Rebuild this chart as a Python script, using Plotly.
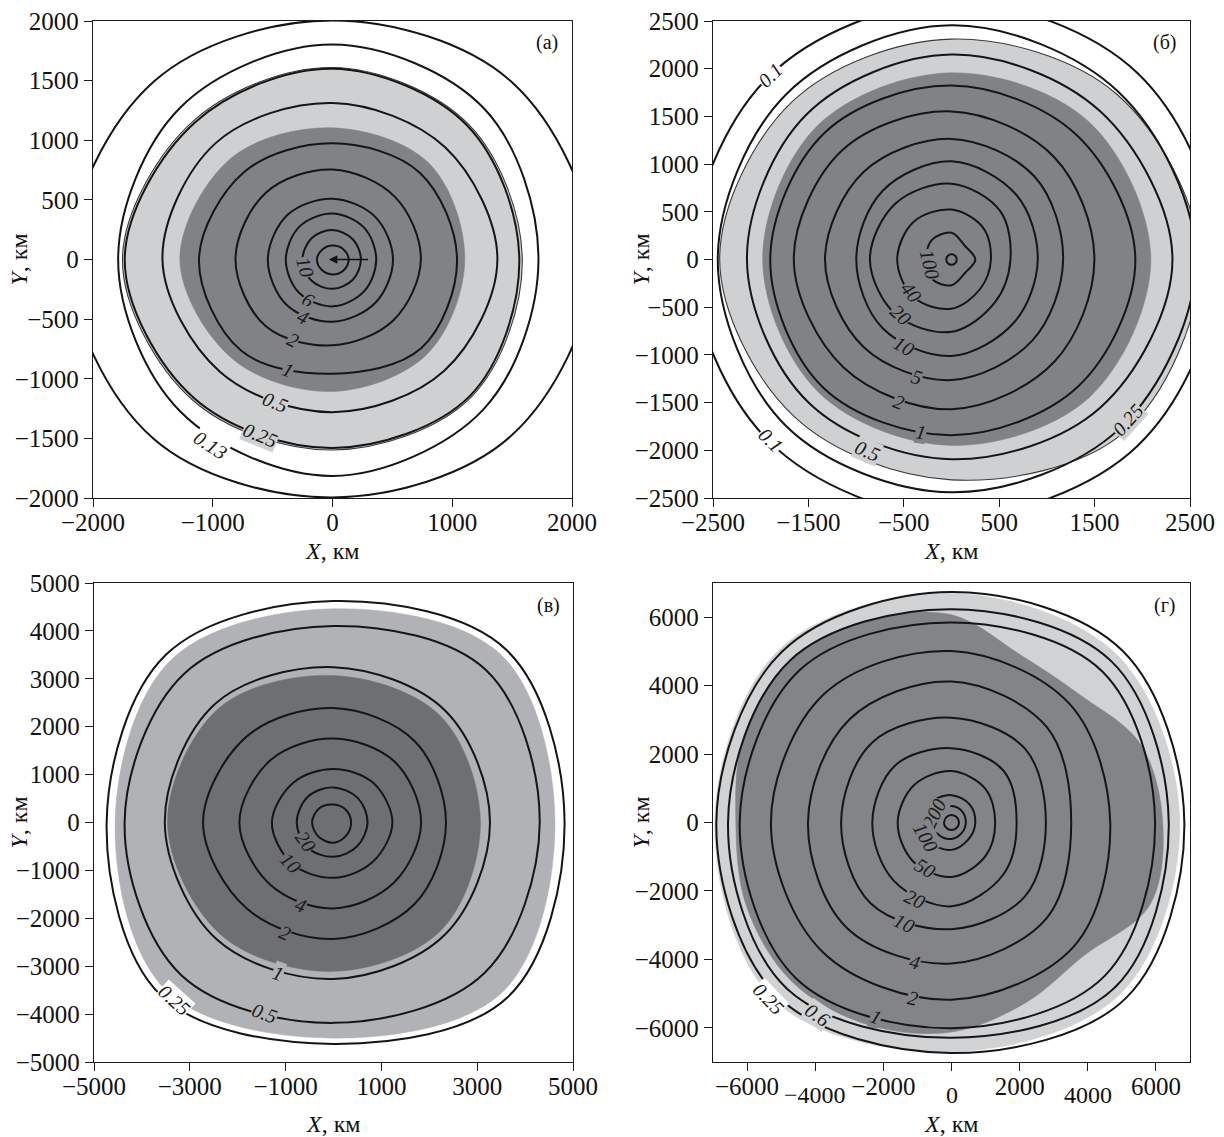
import numpy as np
import plotly.graph_objects as go

W, H = 1224, 1137
FONT = "Liberation Serif"
ANG8 = [0, 45, 90, 135, 180, 225, 270, 315]
ANG16 = [0, 22.5, 45, 67.5, 90, 112.5, 135, 157.5, 180, 202.5, 225, 247.5, 270, 292.5, 315, 337.5]

# ---------------- panel (а) ----------------
A_levels = ["", "0.13", "0.25", "0.5", "1", "2", "4", "6", "10", ""]
A_radii = [
    [2180, 2110, 2005, 2110, 2200, 2120, 1995, 2100],
    [1720, 1790, 1803, 1800, 1790, 1800, 1815, 1780],
    [1560, 1590, 1600, 1625, 1735, 1640, 1580, 1620],
    [1377, 1330, 1312, 1380, 1420, 1330, 1280, 1320],
    [1040, 1030, 974, 1040, 1115, 1080, 958, 1050],
    [738, 740, 755, 790, 810, 790, 720, 720],
    [505, 505, 510, 530, 540, 540, 522, 510],
    [365, 375, 385, 390, 390, 395, 393, 375],
    [237, 240, 248, 250, 250, 250, 246, 240],
    [135, 125, 118, 120, 130, 125, 125, 130],
]
A_light = [1585, 1605, 1610, 1643, 1754, 1660, 1598, 1635]
A_dark = [1105, 1140, 1104, 1200, 1275, 1180, 1107, 1120]
A_lab_text = ["10", "6", "4", "2", "1", "0.5", "0.25", "0.13"]
A_lab_x = [-230, -202, -244, -327, -369, -480, -604, -1019]
A_lab_y = [-65, -340, -485, -675, -927, -1192, -1468, -1555]
A_lab_bg = ["dark", "dark", "dark", "dark", "dark", "light", "light", "white"]
A_arrow_tail = [310, 0]
A_arrow_head = [-30, 0]

# ---------------- panel (б) ----------------
B_levels = ["0.1", "0.25", "0.5", "1", "2", "5", "10", "20", "40", "100", ""]
B_radii = [
    [2800, 2760, 2700, 2710, 2720, 2700, 2700, 2760],
    [2560, 2480, 2455, 2450, 2450, 2460, 2440, 2500],
    [2316, 2200, 2148, 2150, 2144, 2120, 2094, 2200],
    [1927, 1850, 1823, 1880, 1900, 1900, 1841, 1880],
    [1498, 1520, 1552, 1620, 1653, 1600, 1570, 1520],
    [1170, 1230, 1264, 1300, 1326, 1300, 1264, 1200],
    [904, 960, 1029, 1020, 998, 1020, 1011, 930],
    [618, 720, 794, 830, 855, 820, 758, 640],
    [413, 470, 523, 560, 569, 560, 516, 430],
    [250, 200, 280, 290, 265, 290, 270, 200],
    [55, 55, 55, 55, 55, 55, 55, 55],
]
B_light = [2600, 2450, 2310, 2350, 2430, 2330, 2310, 2560]
B_dark = [2090, 2040, 1957, 1985, 1980, 1970, 1949, 2044]
B_lab_text = ["100", "40", "20", "10", "5", "2", "1", "0.5", "0.25", "0.1", "0.1"]
B_lab_x = [-221, -425, -528, -500, -364, -548, -323, -876, 1845, -1898, -1898]
B_lab_y = [-54, -343, -578, -903, -1227, -1491, -1805, -2004, -1679, 1931, -1895]
B_lab_bg = ["dark", "dark", "dark", "dark", "dark", "dark", "dark", "light", "light", "white", "white"]

# ---------------- panel (в) ----------------
C_levels = ["0.25", "0.5", "1", "2", "4", "10", "20", ""]
C_radii = [
    [4824, 5100, 4622, 4950, 4736, 5100, 4622, 5150],
    [4305, 4500, 4104, 4400, 4361, 4500, 4183, 4450],
    [3267, 3300, 3243, 3500, 3522, 3450, 3267, 3300],
    [2348, 2400, 2390, 2550, 2723, 2550, 2430, 2400],
    [1829, 1800, 1753, 1850, 1965, 1850, 1793, 1780],
    [1230, 1170, 1116, 1180, 1286, 1220, 1155, 1160],
    [711, 720, 733, 760, 767, 750, 717, 700],
    [367, 370, 375, 420, 447, 430, 422, 380],
]
C_light = [4624, 4950, 4462, 4800, 4560, 4950, 4502, 5000]
C_dark = [3067, 3150, 3068, 3380, 3466, 3320, 3108, 3180]
C_lab_text = ["20", "10", "4", "2", "1", "0.5", "0.25"]
C_lab_x = [-567, -887, -687, -1006, -1166, -1446, -3323]
C_lab_y = [-398, -837, -1713, -2311, -3147, -3984, -3704]
C_lab_bg = ["dark", "dark", "dark", "dark", "light", "light", "white"]

# ---------------- panel (г) ----------------
D_levels = ["0.25", "0.6", "1", "2", "4", "10", "20", "50", "100", "200", ""]
D_radii = [
    [6834, 7100, 6737, 7050, 6902, 7200, 6737, 7250],
    [6376, 6650, 6236, 6700, 6559, 6850, 6292, 6800],
    [5975, 6250, 5846, 6300, 6216, 6450, 6013, 6350],
    [4659, 4900, 5011, 5300, 5300, 5350, 5178, 5100],
    [3514, 3950, 4120, 4250, 4212, 4350, 4120, 3950],
    [2770, 3050, 3062, 3300, 3240, 3350, 3118, 3050],
    [1912, 2150, 2171, 2350, 2324, 2400, 2450, 2150],
    [1282, 1400, 1503, 1550, 1580, 1600, 1592, 1400],
    [700, 750, 800, 850, 900, 850, 800, 700],
    [420, 450, 480, 520, 560, 520, 480, 430],
    [220, 220, 220, 220, 220, 220, 220, 220],
]
D_light = [6700, 6900, 6700, 7150, 6950, 7350, 6700, 7050]
D_dark = [6200, 6000, 5300, 5300, 6069, 6400, 6700, 6600, 6330, 6500, 6600, 6400, 6124, 5700, 5500, 6300]
D_lab_text = ["200", "100", "50", "20", "10", "4", "2", "1", "0.6", "0.25"]
D_lab_x = [-520, -760, -778, -1065, -1408, -1065, -1122, -2209, -3926, -5357]
D_lab_y = [250, -420, -1336, -2227, -2951, -4065, -5122, -5679, -5624, -5157]
D_lab_bg = ["dark", "dark", "dark", "dark", "dark", "dark", "dark", "dark", "light", "white"]

# tick values / labels
A_ticks_x = [-2000, -1000, 0, 1000, 2000]
A_ticks_y = [-2000, -1500, -1000, -500, 0, 500, 1000, 1500, 2000]
B_ticks_x = [-2500, -1500, -500, 500, 1500, 2500]
B_ticks_y = [-2500, -2000, -1500, -1000, -500, 0, 500, 1000, 1500, 2000, 2500]
C_ticks_x = [-5000, -3000, -1000, 1000, 3000, 5000]
C_ticks_y = [-5000, -4000, -3000, -2000, -1000, 0, 1000, 2000, 3000, 4000, 5000]
D_ticks_x = [-6000, -4000, -2000, 0, 2000, 4000, 6000]
D_ticktext_x = ["\u22126000", "", "\u22122000", "", "2000", "", "6000"]
D_row2_x = [-4000, 0, 4000]
D_row2_text = ["\u22124000", "0", "4000"]
D_ticks_y = [-6000, -4000, -2000, 0, 2000, 4000, 6000]

PANELS = [
    dict(name="(a)", levels=A_levels, radii=A_radii, light=A_light, dark=A_dark,
         lt=A_lab_text, lx=A_lab_x, ly=A_lab_y, lbg=A_lab_bg,
         colors=dict(light="#cfd0d2", dark="#818286", white="#ffffff"),
         light_outline=True, rng=[-2000, 2000],
         px=(93, 572), py=(21, 498), tx=A_ticks_x, ty=A_ticks_y, ttx=None),
    dict(name="(б)", levels=B_levels, radii=B_radii, light=B_light, dark=B_dark,
         lt=B_lab_text, lx=B_lab_x, ly=B_lab_y, lbg=B_lab_bg,
         colors=dict(light="#cfd0d2", dark="#818286", white="#ffffff"),
         light_outline=True, rng=[-2500, 2500],
         px=(713, 1190), py=(21, 498), tx=B_ticks_x, ty=B_ticks_y, ttx=None),
    dict(name="(в)", levels=C_levels, radii=C_radii, light=C_light, dark=C_dark,
         lt=C_lab_text, lx=C_lab_x, ly=C_lab_y, lbg=C_lab_bg,
         colors=dict(light="#b1b2b5", dark="#6e6f73", white="#ffffff"),
         light_outline=False, rng=[-5000, 5000],
         px=(94, 573), py=(583, 1062), tx=C_ticks_x, ty=C_ticks_y, ttx=None),
    dict(name="(г)", levels=D_levels, radii=D_radii, light=D_light, dark=D_dark,
         lt=D_lab_text, lx=D_lab_x, ly=D_lab_y, lbg=D_lab_bg,
         colors=dict(light="#d1d2d4", dark="#838488", white="#ffffff"),
         light_outline=False, rng=[-7000, 7000],
         px=(713, 1190), py=(583, 1062), tx=D_ticks_x, ty=D_ticks_y, ttx=D_ticktext_x),
]


def closed_curve(radii):
    ang = ANG8 if len(radii) == 8 else ANG16
    t = np.deg2rad(ang)
    r = np.asarray(radii, float)
    x = list(r * np.cos(t))
    y = list(r * np.sin(t))
    return x + [x[0]], y + [y[0]]


fig = go.Figure()
annotations = []
layout_axes = {}

for i, p in enumerate(PANELS):
    k = "" if i == 0 else str(i + 1)
    xr, yr = "x" + k, "y" + k
    col = p["colors"]
    # light region
    x, y = closed_curve(p["light"])
    fig.add_trace(go.Scatter(
        x=x, y=y, xaxis=xr, yaxis=yr, mode="lines", fill="toself",
        fillcolor=col["light"],
        line=dict(color="#3a3a3a" if p["light_outline"] else col["light"],
                  width=1.1 if p["light_outline"] else 0.5,
                  shape="spline", smoothing=1.0, simplify=False),
        hoverinfo="skip", showlegend=False))
    # dark region
    x, y = closed_curve(p["dark"])
    fig.add_trace(go.Scatter(
        x=x, y=y, xaxis=xr, yaxis=yr, mode="lines", fill="toself",
        fillcolor=col["dark"],
        line=dict(color=col["dark"], width=0.5, shape="spline", smoothing=1.0, simplify=False),
        hoverinfo="skip", showlegend=False))
    # contour lines
    for lev, rad in zip(p["levels"], p["radii"]):
        x, y = closed_curve(rad)
        fig.add_trace(go.Scatter(
            x=x, y=y, xaxis=xr, yaxis=yr, mode="lines", name=lev or "contour",
            line=dict(color="#151515", width=2.0, shape="spline", smoothing=1.0, simplify=False),
            hoverinfo="skip", showlegend=False))
    # contour labels
    for t, lx, ly, bg in zip(p["lt"], p["lx"], p["ly"], p["lbg"]):
        th = np.degrees(np.arctan2(ly, lx))
        ang = -(th + 90.0)
        while ang > 90:
            ang -= 180
        while ang < -90:
            ang += 180
        annotations.append(dict(
            x=lx, y=ly, xref=xr, yref=yr, text="<i>%s</i>" % t, showarrow=False,
            textangle=ang, bgcolor=col[bg], borderpad=0,
            font=dict(family=FONT, size=20, color="#1a1a1a")))
    # axes
    x0, x1 = p["px"]
    y0, y1 = p["py"]
    common = dict(ticks="outside", ticklen=8, tickwidth=1.2, tickcolor="#1a1a1a",
                  showline=True, linecolor="#1a1a1a", linewidth=1.3, mirror=True,
                  showgrid=False, zeroline=False, automargin=False,
                  tickfont=dict(family=FONT, size=25, color="#111"))
    xa = dict(domain=[x0 / W, x1 / W], range=p["rng"], tickvals=p["tx"],
              anchor=yr, ticklabelstandoff=-6, **common)
    if p["ttx"] is not None:
        xa["ticktext"] = p["ttx"]
    ya = dict(domain=[1 - y1 / H, 1 - y0 / H], range=p["rng"], tickvals=p["ty"],
              anchor=xr, **common)
    layout_axes["xaxis" + k] = xa
    layout_axes["yaxis" + k] = ya
    # panel tag
    annotations.append(dict(
        x=(x1 - 25) / W, y=1 - (y0 + 22) / H, xref="paper", yref="paper",
        text=p["name"], showarrow=False, xanchor="center", yanchor="middle",
        font=dict(family=FONT, size=20, color="#111")))
    # axis titles
    xt_y = 551 if i < 2 else 1124
    annotations.append(dict(
        x=(x0 + x1) / 2 / W, y=1 - xt_y / H, xref="paper", yref="paper",
        text="<i>X</i>, км", showarrow=False, xanchor="center", yanchor="middle",
        font=dict(family=FONT, size=24, color="#111")))
    yt_x = 18 if i % 2 == 0 else 640
    annotations.append(dict(
        x=yt_x / W, y=1 - (y0 + y1) / 2 / H, xref="paper", yref="paper",
        text="<i>Y</i>, км", showarrow=False, textangle=-90,
        xanchor="center", yanchor="middle",
        font=dict(family=FONT, size=24, color="#111")))

# second row of staggered tick labels in panel (г)
for vx, tx in zip(D_row2_x, D_row2_text):
    annotations.append(dict(
        x=vx, y=1 - 1095 / H, xref="x4", yref="paper", text=tx, showarrow=False,
        xanchor="center", yanchor="middle",
        font=dict(family=FONT, size=24, color="#111")))

# arrow at the centre of panel (а)
annotations.append(dict(
    x=A_arrow_head[0], y=A_arrow_head[1], ax=A_arrow_tail[0], ay=A_arrow_tail[1],
    xref="x", yref="y", axref="x", ayref="y", text="", showarrow=True,
    arrowhead=2, arrowsize=1.3, arrowwidth=1.3, arrowcolor="#111"))

fig.update_layout(
    width=W, height=H, margin=dict(l=0, r=0, t=0, b=0),
    paper_bgcolor="white", plot_bgcolor="white",
    showlegend=False, annotations=annotations, **layout_axes)

fig.write_html(
    "out.html",
    config={"displayModeBar": False},
    post_script="document.body.style.margin='0';document.body.style.padding='0';"
                "document.body.style.overflow='hidden';")
